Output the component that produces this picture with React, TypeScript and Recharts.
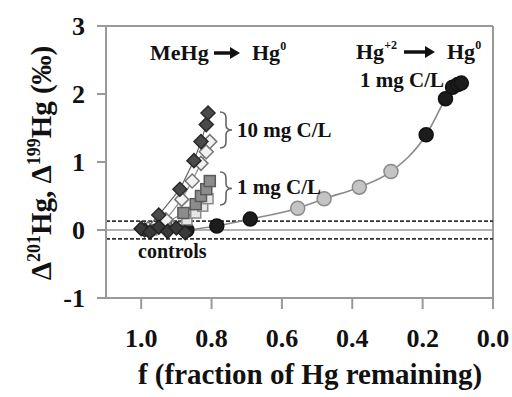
import React from "react";
import {
  ComposedChart,
  Line,
  XAxis,
  YAxis,
  ReferenceLine,
} from "recharts";

// fraction of Hg remaining (f) and Δ values (‰)
const diamond10F = [0.99, 0.95, 0.89, 0.85, 0.83, 0.815, 0.81];
const diamond10Y = [0.0, 0.22, 0.6, 1.02, 1.3, 1.55, 1.72];
const openDiamond10F = [0.98, 0.93, 0.885, 0.855, 0.83, 0.815, 0.805];
const openDiamond10Y = [0.02, 0.15, 0.45, 0.72, 0.98, 1.15, 1.3];
const square1F = [0.98, 0.93, 0.88, 0.845, 0.83, 0.815, 0.805];
const square1Y = [0.0, 0.1, 0.25, 0.38, 0.5, 0.6, 0.72];
const openSquare1F = [0.97, 0.92, 0.87, 0.845, 0.825, 0.81];
const openSquare1Y = [0.0, 0.05, 0.15, 0.25, 0.35, 0.46];
const controlsF = [1.0, 0.975, 0.95, 0.925, 0.9, 0.875];
const controlsY = [0.02, -0.03, 0.04, -0.02, 0.03, -0.04];
const hgIIF = [0.87, 0.785, 0.69, 0.555, 0.48, 0.38, 0.29, 0.19, 0.135, 0.115, 0.1, 0.09];
const hgIIY = [0.0, 0.06, 0.16, 0.32, 0.46, 0.63, 0.86, 1.4, 1.93, 2.1, 2.14, 2.16];
const hgIIDark = [true, true, true, false, false, false, false, true, true, true, true, true];

const xTicks = [0, 0.2, 0.4, 0.6, 0.8, 1.0];
const yTicks = [-1, 0, 1, 2, 3];
const blankLimits = [-0.13, 0.13];

const FONT = "Liberation Serif, DejaVu Serif, Times New Roman, serif";

const toPts = (fs: number[], ys: number[], flags?: boolean[]) =>
  fs.map((f, i) => ({ f, y: ys[i], dark: flags ? flags[i] : false }));

const diamondDot = (fill: string, stroke: string, r: number) => (p: any) => {
  const { cx, cy, index } = p;
  if (cx == null || cy == null) return <g key={index} />;
  return (
    <polygon
      key={index}
      points={`${cx},${cy - r} ${cx + r},${cy} ${cx},${cy + r} ${cx - r},${cy}`}
      fill={fill}
      stroke={stroke}
      strokeWidth={1.5}
    />
  );
};

const squareDot = (fill: string, stroke: string, s: number) => (p: any) => {
  const { cx, cy, index } = p;
  if (cx == null || cy == null) return <g key={index} />;
  return (
    <rect
      key={index}
      x={cx - s / 2}
      y={cy - s / 2}
      width={s}
      height={s}
      fill={fill}
      stroke={stroke}
      strokeWidth={1.5}
    />
  );
};

const circleDot = (p: any) => {
  const { cx, cy, index, payload } = p;
  if (cx == null || cy == null) return <g key={index} />;
  return (
    <circle
      key={index}
      cx={cx}
      cy={cy}
      r={7}
      fill={payload.dark ? "#1c1c1c" : "#c4c4c4"}
      stroke={payload.dark ? "#111" : "#8a8a8a"}
      strokeWidth={1.5}
    />
  );
};

const Arrow = ({ x1, x2, y }: { x1: number; x2: number; y: number }) => (
  <g>
    <line x1={x1} y1={y} x2={x2 - 8} y2={y} stroke="#111" strokeWidth={3.5} />
    <polygon points={`${x2},${y} ${x2 - 10},${y - 6} ${x2 - 10},${y + 6}`} fill="#111" />
  </g>
);

const Bracket = ({ x, y1, y2 }: { x: number; y1: number; y2: number }) => {
  const m = (y1 + y2) / 2;
  return (
    <path
      d={`M${x},${y1} Q${x + 6},${y1} ${x + 6},${y1 + 6} L${x + 6},${m - 5} Q${x + 6},${m} ${x + 12},${m} Q${x + 6},${m} ${x + 6},${m + 5} L${x + 6},${y2 - 6} Q${x + 6},${y2} ${x},${y2}`}
      fill="none"
      stroke="#666"
      strokeWidth={1.6}
    />
  );
};

export default function App() {
  const txt = { fontFamily: FONT, fontWeight: "bold" as const, fill: "#111" };
  return (
    <div style={{ position: "absolute", left: 0, top: 0, width: 512, height: 397, background: "#fff", fontFamily: FONT }}>
      <ComposedChart
        width={512}
        height={397}
        margin={{ top: 26, right: 19, left: 0, bottom: 0 }}
      >
        <XAxis
          dataKey="f"
          type="number"
          domain={[0, 1.1]}
          reversed
          allowDataOverflow
          ticks={xTicks}
          tickFormatter={(v) => v.toFixed(1)}
          height={99}
          tickSize={11}
          tickMargin={20}
          stroke="#999"
          strokeWidth={2}
          tick={{ fontFamily: FONT, fontWeight: "bold", fontSize: 26, fill: "#111" }}
        />
        <YAxis
          dataKey="y"
          type="number"
          domain={[-1, 3]}
          allowDataOverflow
          ticks={yTicks}
          width={106}
          tickSize={9}
          tickMargin={12}
          stroke="#999"
          strokeWidth={2}
          tick={{ fontFamily: FONT, fontWeight: "bold", fontSize: 26, fill: "#111" }}
        />
        <ReferenceLine y={3} stroke="#999" strokeWidth={2} />
        <ReferenceLine x={0} stroke="#999" strokeWidth={2} />
        <ReferenceLine y={0} stroke="#9a9a9a" strokeWidth={1.5} />
        {blankLimits.map((v) => (
          <ReferenceLine key={v} y={v} stroke="#333" strokeWidth={1.6} strokeDasharray="4 2" />
        ))}
        <Line
          data={toPts(hgIIF, hgIIY, hgIIDark)}
          dataKey="y"
          type="monotone"
          stroke="#8a8a8a"
          strokeWidth={1.6}
          dot={circleDot}
          isAnimationActive={false}
        />
        <Line
          data={toPts(openSquare1F, openSquare1Y)}
          dataKey="y"
          stroke="#9a9a9a"
          strokeWidth={1.2}
          dot={squareDot("#e6e6e6", "#8a8a8a", 10)}
          isAnimationActive={false}
        />
        <Line
          data={toPts(square1F, square1Y)}
          dataKey="y"
          stroke="#888"
          strokeWidth={1.2}
          dot={squareDot("#8c8c8c", "#5a5a5a", 11)}
          isAnimationActive={false}
        />
        <Line
          data={toPts(openDiamond10F, openDiamond10Y)}
          dataKey="y"
          stroke="#8a8a8a"
          strokeWidth={1.2}
          dot={diamondDot("#f2f2f2", "#777", 7)}
          isAnimationActive={false}
        />
        <Line
          data={toPts(diamond10F, diamond10Y)}
          dataKey="y"
          stroke="#666"
          strokeWidth={1.2}
          dot={diamondDot("#4a4a4a", "#2a2a2a", 7)}
          isAnimationActive={false}
        />
        <Line
          data={toPts(controlsF, controlsY)}
          dataKey="y"
          stroke="#555"
          strokeWidth={1.2}
          dot={diamondDot("#3a3a3a", "#222", 7)}
          isAnimationActive={false}
        />
      </ComposedChart>
      <svg
        width={512}
        height={397}
        style={{ position: "absolute", left: 0, top: 0, pointerEvents: "none" }}
      >
        {/* y axis title */}
        <text transform="translate(51,163) rotate(-90)" textAnchor="middle" fontSize={29} {...txt}>
          Δ<tspan dy={-11} fontSize={18}>201</tspan>
          <tspan dy={11}>Hg, Δ</tspan>
          <tspan dy={-11} fontSize={18}>199</tspan>
          <tspan dy={11}>Hg (‰)</tspan>
        </text>
        {/* x axis title */}
        <text x={310} y={384} textAnchor="middle" fontSize={29} {...txt}>
          f (fraction of Hg remaining)
        </text>

        {/* MeHg -> Hg0 */}
        <text x={150} y={60} fontSize={22} {...txt}>MeHg</text>
        <Arrow x1={214} x2={240} y={53} />
        <text x={252} y={60} fontSize={22} {...txt}>
          Hg<tspan dy={-10} fontSize={12}>0</tspan>
        </text>

        {/* Hg+2 -> Hg0 */}
        <text x={356} y={59} fontSize={22} {...txt}>
          Hg<tspan dy={-10} fontSize={12}>+2</tspan>
        </text>
        <Arrow x1={404} x2={435} y={52} />
        <text x={447} y={59} fontSize={22} {...txt}>
          Hg<tspan dy={-10} fontSize={12}>0</tspan>
        </text>
        <text x={360} y={87} fontSize={21} {...txt}>1 mg C/L</text>

        <Bracket x={220} y1={112} y2={148} />
        <text x={237} y={137} fontSize={21} {...txt}>10 mg C/L</text>
        <Bracket x={220} y1={172} y2={205} />
        <text x={237} y={194} fontSize={21} {...txt}>1 mg C/L</text>
        <text x={138} y={258} fontSize={20} {...txt}>controls</text>
      </svg>
    </div>
  );
}
